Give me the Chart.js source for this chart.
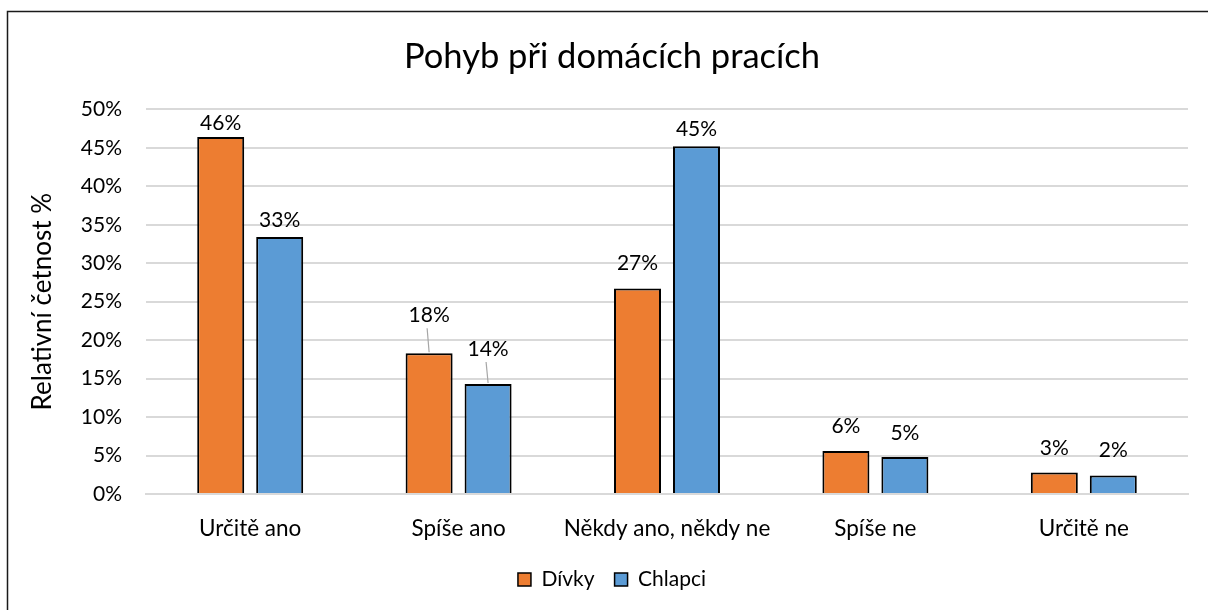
<!DOCTYPE html>
<html>
<head>
<meta charset="utf-8">
<script src="https://cdn.jsdelivr.net/npm/chart.js@4.4.1/dist/chart.umd.min.js"></script>
<style>
  html, body { margin: 0; padding: 0; background: #ffffff; }
  #wrap { position: relative; width: 1208px; height: 610px; overflow: hidden; }
  canvas { display: block; }
</style>
</head>
<body>
<div id="wrap"><canvas id="c" width="1208" height="610"></canvas></div>
<script>
// ---- data ----
const categories = ["Určitě ano", "Spíše ano", "Někdy ano, někdy ne", "Spíše ne", "Určitě ne"];
const seriesNames = ["Dívky", "Chlapci"];
const divky = [46.4, 18.3, 26.7, 5.6, 2.8];
const chlapci = [33.4, 14.3, 45.2, 4.8, 2.4];
const yTicks = [0, 5, 10, 15, 20, 25, 30, 35, 40, 45, 50];
const chartTitle = "Pohyb při domácích pracích";
const yAxisTitle = "Relativní četnost %";

// ---- styles ----
const FONT = "Lato, 'Open Sans', sans-serif";
const labelOffsets = [[14, 38, 25, 25, 24], [17, 35, 17, 24, 25]];
const leaderLines = [[false, true, false, false, false], [false, true, false, false, false]];

const borderPlugin = {
  id: 'outerBorder',
  beforeDraw(chart) {
    const ctx = chart.ctx;
    ctx.save();
    ctx.fillStyle = '#ffffff';
    ctx.fillRect(0, 0, chart.width, chart.height);
    ctx.strokeStyle = '#1a1a1a';
    ctx.lineWidth = 1.5;
    ctx.strokeRect(7.5, 11.5, 1400, 800);
    ctx.restore();
  }
};

const yTitlePlugin = {
  id: 'yTitle',
  afterDraw(chart) {
    const ctx = chart.ctx;
    const a = chart.chartArea;
    ctx.save();
    ctx.translate(43, (a.top + a.bottom) / 2);
    ctx.rotate(-Math.PI / 2);
    ctx.font = "26px " + FONT;
    ctx.fillStyle = '#000000';
    ctx.textAlign = 'center';
    ctx.textBaseline = 'middle';
    ctx.fillText(yAxisTitle, 0, 0);
    ctx.restore();
  }
};

const valueLabels = {
  id: 'valueLabels',
  afterDatasetsDraw(chart) {
    const ctx = chart.ctx;
    ctx.save();
    ctx.font = "21px " + FONT;
    ctx.fillStyle = '#000000';
    ctx.textAlign = 'center';
    ctx.textBaseline = 'middle';
    chart.data.datasets.forEach((ds, di) => {
      const meta = chart.getDatasetMeta(di);
      meta.data.forEach((bar, i) => {
        const v = ds.data[i];
        const off = labelOffsets[di][i];
        const cy = bar.y - off;
        if (leaderLines[di][i]) {
          ctx.strokeStyle = '#a6a6a6';
          ctx.lineWidth = 1.2;
          ctx.beginPath();
          ctx.moveTo(bar.x - 2, cy + 13);
          ctx.lineTo(bar.x, bar.y - 1);
          ctx.stroke();
        }
        ctx.fillText(Math.round(v) + '%', bar.x, cy);
      });
    });
    ctx.restore();
  }
};

new Chart(document.getElementById('c'), {
  type: 'bar',
  data: {
    labels: categories,
    datasets: [
      { label: seriesNames[0], data: divky, backgroundColor: '#ED7D31', borderColor: '#000000', borderWidth: 2 },
      { label: seriesNames[1], data: chlapci, backgroundColor: '#5B9BD5', borderColor: '#000000', borderWidth: 2 }
    ]
  },
  options: {
    responsive: false,
    animation: false,
    devicePixelRatio: 1,
    layout: { padding: { left: 36, right: 20, top: 0, bottom: 10 } },
    datasets: { bar: { categoryPercentage: 0.566, barPercentage: 0.797 } },
    plugins: {
      title: {
        display: true,
        text: chartTitle,
        color: '#000000',
        font: { family: FONT, size: 34.5, weight: 'normal', lineHeight: 1.2 },
        padding: { top: 36, bottom: 32 }
      },
      legend: {
        position: 'bottom',
        labels: {
          color: '#000000',
          font: { family: FONT, size: 21 },
          boxWidth: 13,
          boxHeight: 13,
          padding: 20,
          generateLabels(chart) {
            return chart.data.datasets.map((ds, i) => ({
              text: ds.label,
              fillStyle: ds.backgroundColor,
              strokeStyle: '#000000',
              lineWidth: 1.5,
              datasetIndex: i,
              fontColor: '#000000'
            }));
          }
        }
      },
      tooltip: { enabled: false }
    },
    scales: {
      x: {
        grid: { display: false, drawTicks: false },
        border: { display: true, color: '#d9d9d9', width: 2 },
        ticks: { color: '#000000', font: { family: FONT, size: 22.5 }, padding: 21, maxRotation: 0, minRotation: 0, autoSkip: false },
        afterFit(scale) { scale.height = 55; }
      },
      y: {
        min: 0,
        max: 50,
        afterBuildTicks(scale) { scale.ticks = yTicks.map(v => ({ value: v })); },
        grid: { color: '#d9d9d9', lineWidth: 2, drawTicks: false },
        border: { display: false },
        ticks: { color: '#000000', font: { family: FONT, size: 21 }, padding: 24, callback: v => v + '%' },
        afterFit(scale) { scale.width = 110; }
      }
    }
  },
  plugins: [borderPlugin, yTitlePlugin, valueLabels]
});
</script>
</body>
</html>
